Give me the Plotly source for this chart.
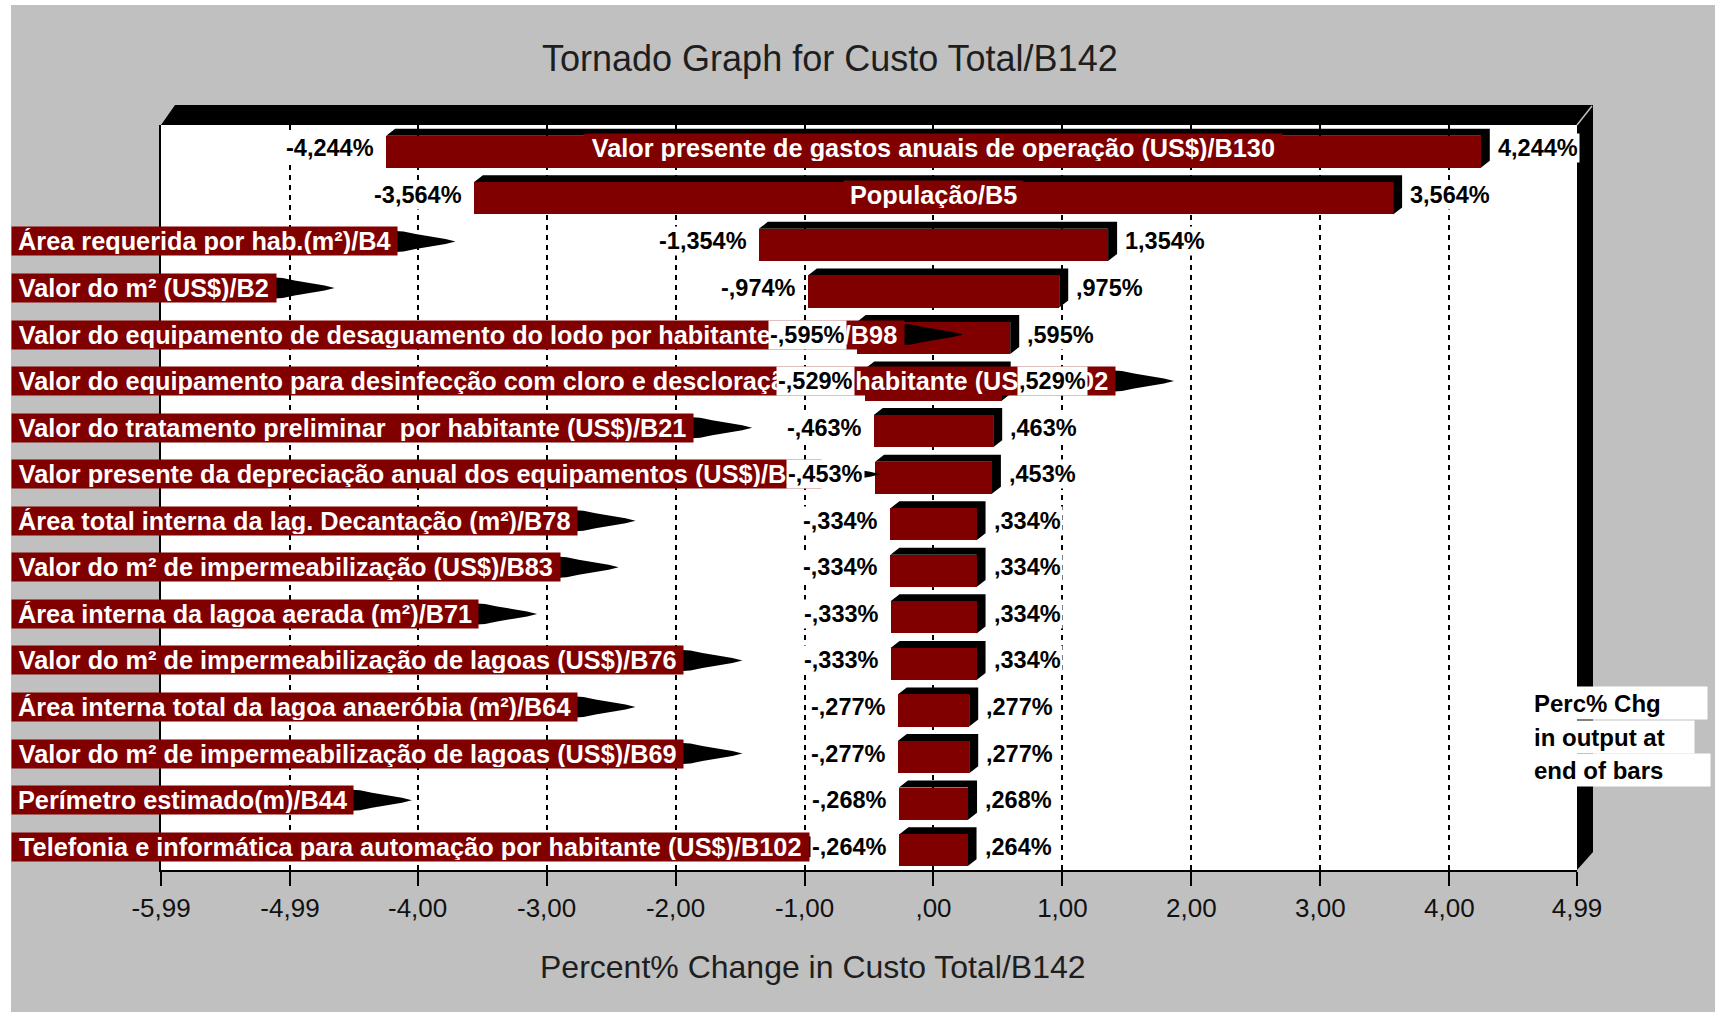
import plotly.graph_objects as go

# ---------------- data ----------------
categories = [
    "Valor presente de gastos anuais de operação (US$)/B130",
    "População/B5",
    "Área requerida por hab.(m²)/B4",
    "Valor do m² (US$)/B2",
    "Valor do equipamento de desaguamento do lodo por habitante (US$)/B98",
    "Valor do equipamento para desinfecção com cloro e descloração por habitante (US$)/B102",
    "Valor do tratamento preliminar  por habitante (US$)/B21",
    "Valor presente da depreciação anual dos equipamentos (US$)/B26",
    "Área total interna da lag. Decantação (m²)/B78",
    "Valor do m² de impermeabilização (US$)/B83",
    "Área interna da lagoa aerada (m²)/B71",
    "Valor do m² de impermeabilização de lagoas (US$)/B76",
    "Área interna total da lagoa anaeróbia (m²)/B64",
    "Valor do m² de impermeabilização de lagoas (US$)/B69",
    "Perímetro estimado(m)/B44",
    "Telefonia e informática para automação por habitante (US$)/B102",
]
low_pct = [-4.244, -3.564, -1.354, -0.974, -0.595, -0.529, -0.463, -0.453,
           -0.334, -0.334, -0.333, -0.333, -0.277, -0.277, -0.268, -0.264]
high_pct = [4.244, 3.564, 1.354, 0.975, 0.595, 0.529, 0.463, 0.453,
            0.334, 0.334, 0.334, 0.334, 0.277, 0.277, 0.268, 0.264]
tick_vals = [-5.99, -4.99, -4.00, -3.00, -2.00, -1.00, 0.00, 1.00, 2.00, 3.00, 4.00, 4.99]
tick_text = ["-5,99", "-4,99", "-4,00", "-3,00", "-2,00", "-1,00", ",00",
             "1,00", "2,00", "3,00", "4,00", "4,99"]
title_text = "Tornado Graph for Custo Total/B142"
x_title_text = "Percent% Change in Custo Total/B142"
note_lines = ["Perc% Chg", "in output at", "end of bars"]

# ---------------- geometry / style ----------------
W, H = 1715, 1012
ML, MR, MT, MB = 161, 138, 125, 142
PW, PH = W - ML - MR, H - MT - MB
XMIN, XMAX = -5.99, 4.99
N = len(categories)
PPU = PW / (XMAX - XMIN)      # pixels per x unit
PPR = PH / N                  # pixels per row

MAROON = "#800000"
GREY = "#C0C0C0"
FONT = "Liberation Sans, Arial, sans-serif"
LABEL_SIZE = 25.3
VALUE_SIZE = 23.5


def pxx(px):
    return (px - ML) / PW


def pxy(py):
    return (H - MB - py) / PH


# Arial-Bold compatible advance widths (1/1000 em)
_groups = {
    278: " ,./Iijlí", 333: "()-ft²:;", 389: "r", 500: "z",
    556: "$0123456789Jacksvxyáãâàéêç", 611: "FLTZbdghnopquóõôú",
    667: "EPSVXY", 722: "ABCDHKNRUÁ", 778: "GOQw", 833: "M", 889: "%m", 944: "W",
}
BOLD_W = {ch: w for w, chars in _groups.items() for ch in chars}


def text_w(s, size):
    return sum(BOLD_W.get(c, 556) for c in s) / 1000.0 * size


def fmt_pct(v):
    s = f"{abs(v):.3f}".replace(".", ",")
    if s.startswith("0"):
        s = s[1:]
    return ("-" if v < 0 else "") + s + "%"


H_FRONT = 0.69
DX = 9 / PPU
DY = 7 / PPR
bar_y = [i + DY / 2 for i in range(N)]

fig = go.Figure()
fig.add_trace(go.Bar(
    y=bar_y, x=[h - l for l, h in zip(low_pct, high_pct)], base=low_pct,
    orientation="h", width=H_FRONT, marker=dict(color=MAROON, line=dict(width=0)),
    hoverinfo="skip",
))

shapes = []
# white outer strips
shapes.append(dict(type="rect", xref="paper", yref="paper", x0=pxx(0), x1=pxx(11),
                   y0=pxy(0), y1=pxy(H), fillcolor="white", line=dict(width=0), layer="below"))
shapes.append(dict(type="rect", xref="paper", yref="paper", x0=pxx(0), x1=pxx(W),
                   y0=pxy(0), y1=pxy(5), fillcolor="white", line=dict(width=0), layer="below"))
# 3-D frame band (top and right)
frame_pts = [(161, 125), (175, 105), (1593, 105), (1593, 852), (1577, 870), (1577, 125)]
shapes.append(dict(type="path", xref="paper", yref="paper",
                   path="M " + " L ".join(f"{pxx(a):.5f},{pxy(b):.5f}" for a, b in frame_pts) + " Z",
                   fillcolor="black", line=dict(width=0), layer="above"))
shapes.append(dict(type="line", xref="paper", yref="paper", x0=pxx(1577), y0=pxy(125),
                   x1=pxx(1592), y1=pxy(106), line=dict(color=GREY, width=1.5), layer="above"))

# 3-D top/right faces of bars
for yc, lo, hi in zip(bar_y, low_pct, high_pct):
    yt, yb = yc - H_FRONT / 2, yc + H_FRONT / 2
    path = (f"M {lo},{yt} L {lo + DX},{yt - DY} L {hi + DX},{yt - DY} "
            f"L {hi + DX},{yb - DY} L {hi},{yb} L {hi},{yt} Z")
    shapes.append(dict(type="path", xref="x", yref="y", path=path,
                       fillcolor="black", line=dict(width=0), layer="between"))

annotations = []
arrow_prof = [(0, -10.5), (8, -10), (20, -7.5), (35, -5), (50, -2.5), (60, 0),
              (50, 2.5), (35, 5), (20, 7.5), (8, 10), (0, 10.5)]
for i, (cat, lo, hi) in enumerate(zip(categories, low_pct, high_pct)):
    tw = text_w(cat, LABEL_SIZE)
    box_w = tw + 10
    lab = dict(text=cat, showarrow=False, yref="y", y=i, yanchor="middle",
               font=dict(family=FONT, size=LABEL_SIZE, color="white", weight="bold"),
               bgcolor=MAROON, borderpad=1, width=box_w, height=26, align="center")
    if tw + 20 < (hi - lo) * PPU:
        lab.update(xref="x", x=(lo + hi) / 2, xanchor="center")
    else:
        x_left = 11
        lab.update(xref="paper", x=pxx(x_left), xanchor="left")
        x_end = x_left + box_w + 2
        path = "M " + " L ".join(f"{pxx(x_end + a):.5f},{i + b / PPR:.4f}" for a, b in arrow_prof) + " Z"
        shapes.append(dict(type="path", xref="paper", yref="y", path=path,
                           fillcolor="black", line=dict(width=0), layer="above"))
    annotations.append(lab)

vfont = dict(family=FONT, size=VALUE_SIZE, color="black", weight="bold")
for i, (lo, hi) in enumerate(zip(low_pct, high_pct)):
    annotations.append(dict(text=fmt_pct(lo), x=lo, y=i, xref="x", yref="y",
                            xanchor="right", yanchor="middle", xshift=-10, showarrow=False,
                            font=vfont, bgcolor="white", borderpad=1))
    annotations.append(dict(text=fmt_pct(hi), x=hi, y=i, xref="x", yref="y",
                            xanchor="left", yanchor="middle", xshift=15, showarrow=False,
                            font=vfont, bgcolor="white", borderpad=1))

note_box_w = [171, 158, 174]
note_y = [703, 737, 770]
for txt, bw, py in zip(note_lines, note_box_w, note_y):
    annotations.append(dict(text=txt, xref="paper", yref="paper", x=pxx(1531), y=pxy(py),
                            xanchor="left", yanchor="middle", showarrow=False, align="left",
                            width=bw, height=28, borderpad=2, bgcolor="white",
                            font=dict(family=FONT, size=24, color="black", weight="bold")))

annotations.append(dict(text=title_text, xref="paper", yref="paper", x=pxx(830), y=pxy(58),
                        xanchor="center", yanchor="middle", showarrow=False,
                        font=dict(family=FONT, size=36, color="#1e1e1e")))
annotations.append(dict(text=x_title_text, xref="paper", yref="paper", x=pxx(813), y=pxy(967),
                        xanchor="center", yanchor="middle", showarrow=False,
                        font=dict(family=FONT, size=32, color="#1e1e1e")))

fig.update_layout(
    width=W, height=H, margin=dict(l=ML, r=MR, t=MT, b=MB, pad=0),
    paper_bgcolor=GREY, plot_bgcolor="white", showlegend=False,
    bargap=0, shapes=shapes, annotations=annotations,
    xaxis=dict(range=[XMIN, XMAX], tickmode="array", tickvals=tick_vals, ticktext=tick_text,
               ticks="outside", ticklen=14, tickwidth=1.5, tickcolor="black",
               showline=True, linecolor="black", linewidth=2,
               showgrid=True, gridcolor="black", gridwidth=1.5, griddash="5px,5px",
               zeroline=False, tickfont=dict(family=FONT, size=26, color="#111111"),
               fixedrange=True),
    yaxis=dict(range=[N - 0.5, -0.5], showticklabels=False, ticks="", showgrid=False,
               zeroline=False, showline=True, linecolor="black", linewidth=2, fixedrange=True),
)

fig.write_html("out.html", config={"displayModeBar": False},
               post_script="document.body.style.margin='0px';document.body.style.padding='0px';")
